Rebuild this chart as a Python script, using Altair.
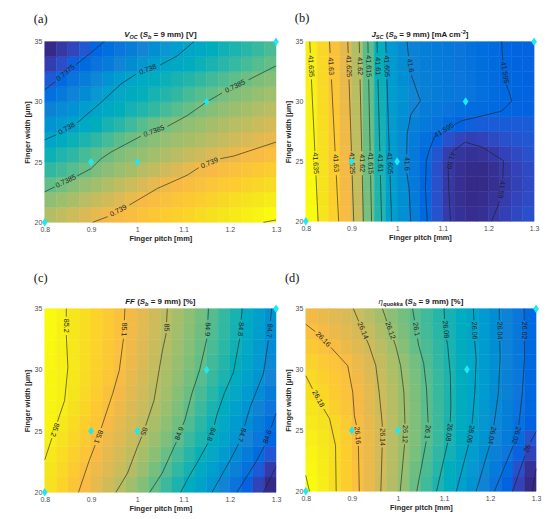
import math
import numpy as np
import pandas as pd
import altair as alt

FONT = "Liberation Sans"

# ---------------- grid geometry (cell edges of the read-off maps) ----------------
X_EDGES = np.linspace(0.8, 1.3, 21)     # finger pitch [mm], 20 columns
Y_EDGES = np.linspace(20.0, 35.0, 13)   # finger width [um], 12 rows

PITCH_TICKS = [0.8, 0.9, 1.0, 1.1, 1.2, 1.3]
WIDTH_TICKS = [20, 25, 30, 35]

DESIGN_PITCH = [0.8, 0.9, 1.0, 1.15, 1.3]
DESIGN_WIDTH = [20, 25, 25, 30, 35]

# ---------------- read-off values, rows from width 20 (bottom) to 35 (top) ----------------
VOC_MV = [
    [738.73,738.79,738.84,738.89,738.95,739.00,739.03,739.06,739.10,739.13,739.16,739.19,739.22,739.26,739.29,739.32,739.35,739.38,739.41,739.45],
    [738.60,738.65,738.70,738.76,738.81,738.86,738.92,738.97,739.02,739.05,739.08,739.11,739.14,739.17,739.20,739.24,739.27,739.30,739.33,739.36],
    [738.46,738.51,738.57,738.62,738.67,738.73,738.78,738.84,738.89,738.95,739.00,739.03,739.06,739.09,739.12,739.15,739.17,739.20,739.23,739.26],
    [738.31,738.36,738.42,738.48,738.54,738.59,738.64,738.69,738.75,738.80,738.85,738.90,738.96,739.01,739.03,739.06,739.09,739.11,739.14,739.17],
    [738.17,738.24,738.30,738.37,738.44,738.50,738.55,738.59,738.63,738.67,738.72,738.76,738.81,738.85,738.89,738.94,738.98,739.02,739.04,739.07],
    [738.03,738.10,738.17,738.23,738.30,738.37,738.44,738.50,738.54,738.58,738.62,738.66,738.69,738.73,738.77,738.81,738.85,738.89,738.93,738.96],
    [737.88,737.94,738.00,738.07,738.14,738.21,738.28,738.35,738.42,738.49,738.53,738.57,738.61,738.64,738.68,738.72,738.76,738.79,738.83,738.87],
    [737.74,737.81,737.88,737.95,738.02,738.08,738.14,738.19,738.25,738.31,738.37,738.43,738.48,738.53,738.57,738.61,738.65,738.69,738.73,738.77],
    [737.59,737.67,737.75,737.83,737.91,737.99,738.05,738.10,738.15,738.21,738.26,738.31,738.37,738.42,738.47,738.52,738.56,738.59,738.63,738.67],
    [737.45,737.54,737.62,737.71,737.79,737.87,737.96,738.03,738.07,738.12,738.17,738.21,738.26,738.31,738.36,738.40,738.45,738.50,738.54,738.57],
    [737.32,737.40,737.48,737.55,737.62,737.69,737.76,737.83,737.90,737.97,738.03,738.08,738.12,738.17,738.22,738.27,738.32,738.37,738.42,738.47],
    [737.21,737.29,737.36,737.44,737.51,737.58,737.64,737.71,737.77,737.84,737.91,737.97,738.03,738.08,738.13,738.18,738.23,738.28,738.33,738.38],
]

JSC_UA = [  # uA cm-2
    [41636.5,41633.7,41631.0,41627.6,41623.1,41616.7,41610.7,41605.0,41602.0,41598.9,41595.3,41592.8,41590.4,41589.2,41588.7,41589.0,41590.0,41591.0,41591.8,41592.5],
    [41636.3,41633.5,41630.8,41627.4,41622.9,41616.5,41610.5,41604.9,41601.8,41598.5,41595.1,41592.5,41590.1,41589.0,41588.5,41588.7,41589.4,41590.6,41591.4,41592.1],
    [41636.2,41633.4,41630.6,41627.2,41622.7,41616.3,41610.3,41604.7,41601.6,41598.3,41594.9,41592.5,41590.0,41588.9,41588.3,41588.4,41589.0,41590.2,41591.1,41591.9],
    [41636.0,41633.2,41630.4,41627.1,41622.5,41616.2,41610.1,41604.6,41601.3,41598.1,41595.1,41592.5,41590.0,41589.0,41588.4,41588.5,41589.1,41590.3,41591.2,41592.0],
    [41635.9,41633.0,41630.2,41626.9,41622.3,41616.0,41609.9,41604.4,41601.1,41598.2,41595.6,41593.1,41590.7,41589.6,41589.2,41589.5,41590.2,41591.2,41592.0,41592.7],
    [41635.7,41632.8,41630.0,41626.7,41622.1,41615.8,41609.7,41604.3,41601.2,41598.6,41596.4,41594.3,41592.8,41591.5,41591.0,41591.3,41592.0,41592.6,41593.0,41593.2],
    [41635.5,41632.7,41629.8,41626.5,41622.0,41615.6,41609.4,41604.3,41601.5,41599.4,41598.2,41597.0,41595.8,41594.6,41594.0,41593.7,41593.6,41593.6,41593.6,41593.6],
    [41635.4,41632.5,41629.6,41626.3,41621.8,41615.4,41609.2,41604.4,41602.2,41600.1,41599.0,41598.0,41597.2,41596.5,41596.0,41595.7,41595.4,41594.9,41594.6,41594.4],
    [41635.2,41632.3,41629.4,41626.1,41621.6,41615.2,41609.0,41604.3,41602.5,41600.6,41599.6,41599.0,41598.3,41597.7,41597.1,41596.5,41595.8,41595.2,41594.8,41594.5],
    [41635.0,41632.1,41629.2,41626.0,41621.4,41615.1,41608.8,41604.1,41601.9,41599.9,41599.3,41598.7,41598.1,41597.5,41596.9,41596.3,41595.7,41595.0,41594.7,41594.4],
    [41634.9,41632.0,41629.0,41625.8,41621.2,41614.9,41608.6,41603.9,41601.6,41599.8,41599.2,41598.6,41598.0,41597.4,41596.8,41596.2,41595.6,41594.9,41594.6,41594.3],
    [41634.7,41631.8,41628.8,41625.6,41621.0,41614.7,41608.4,41603.8,41601.2,41599.7,41599.1,41598.5,41597.9,41597.3,41596.7,41596.1,41595.5,41594.9,41594.6,41594.3],
]

FF_PCT = [
    [85.177,85.148,85.119,85.090,85.061,85.031,85.002,84.968,84.934,84.899,84.861,84.824,84.786,84.750,84.713,84.670,84.624,84.579,84.533,84.488],
    [85.183,85.156,85.129,85.102,85.075,85.048,85.021,84.992,84.957,84.921,84.885,84.849,84.812,84.776,84.740,84.703,84.660,84.616,84.568,84.519],
    [85.191,85.166,85.140,85.114,85.088,85.061,85.034,85.008,84.976,84.942,84.907,84.872,84.837,84.801,84.765,84.729,84.690,84.647,84.604,84.562],
    [85.203,85.177,85.152,85.127,85.101,85.075,85.048,85.021,84.993,84.961,84.929,84.896,84.860,84.825,84.788,84.751,84.713,84.672,84.629,84.587],
    [85.213,85.189,85.164,85.139,85.114,85.088,85.061,85.034,85.008,84.978,84.947,84.916,84.881,84.843,84.806,84.769,84.731,84.693,84.651,84.609],
    [85.212,85.200,85.175,85.150,85.125,85.100,85.073,85.046,85.020,84.991,84.960,84.928,84.896,84.859,84.822,84.785,84.746,84.708,84.668,84.627],
    [85.216,85.205,85.183,85.158,85.134,85.109,85.084,85.056,85.029,85.002,84.971,84.939,84.908,84.873,84.838,84.802,84.765,84.728,84.691,84.653],
    [85.218,85.205,85.187,85.164,85.141,85.118,85.094,85.065,85.037,85.008,84.979,84.950,84.920,84.889,84.855,84.821,84.786,84.748,84.711,84.672],
    [85.220,85.204,85.189,85.167,85.145,85.123,85.101,85.072,85.044,85.015,84.986,84.957,84.929,84.901,84.867,84.833,84.799,84.760,84.721,84.681],
    [85.222,85.205,85.188,85.167,85.146,85.124,85.103,85.076,85.048,85.020,84.992,84.964,84.936,84.907,84.875,84.842,84.808,84.769,84.729,84.688],
    [85.225,85.206,85.187,85.167,85.147,85.127,85.107,85.081,85.053,85.025,84.998,84.969,84.941,84.913,84.882,84.848,84.814,84.777,84.737,84.697],
    [85.227,85.207,85.187,85.167,85.147,85.128,85.108,85.083,85.056,85.029,85.002,84.974,84.946,84.917,84.886,84.852,84.818,84.781,84.741,84.701],
]

ETA_PCT = [
    [26.197,26.189,26.181,26.171,26.161,26.151,26.140,26.129,26.117,26.104,26.092,26.080,26.069,26.057,26.046,26.035,26.022,26.010,25.996,25.983],
    [26.195,26.188,26.181,26.171,26.161,26.151,26.141,26.130,26.118,26.106,26.095,26.084,26.072,26.061,26.050,26.039,26.028,26.016,26.002,25.987],
    [26.193,26.187,26.181,26.171,26.160,26.151,26.141,26.131,26.120,26.109,26.098,26.087,26.076,26.065,26.054,26.043,26.033,26.023,26.009,25.996],
    [26.190,26.185,26.179,26.170,26.160,26.151,26.142,26.131,26.121,26.111,26.100,26.090,26.079,26.068,26.058,26.047,26.037,26.028,26.017,26.003],
    [26.187,26.183,26.177,26.168,26.158,26.150,26.141,26.131,26.121,26.111,26.101,26.091,26.080,26.070,26.060,26.049,26.039,26.030,26.020,26.010],
    [26.184,26.180,26.172,26.165,26.157,26.148,26.140,26.130,26.121,26.111,26.100,26.091,26.081,26.071,26.061,26.051,26.041,26.031,26.022,26.013],
    [26.181,26.176,26.169,26.163,26.156,26.148,26.139,26.130,26.120,26.110,26.100,26.090,26.081,26.071,26.062,26.052,26.042,26.033,26.023,26.013],
    [26.178,26.172,26.167,26.162,26.154,26.146,26.137,26.128,26.119,26.109,26.099,26.090,26.081,26.071,26.062,26.053,26.043,26.033,26.024,26.014],
    [26.173,26.168,26.164,26.159,26.151,26.144,26.135,26.126,26.117,26.107,26.097,26.088,26.080,26.071,26.063,26.053,26.044,26.034,26.025,26.015],
    [26.167,26.163,26.158,26.152,26.146,26.140,26.132,26.123,26.113,26.103,26.095,26.087,26.079,26.070,26.062,26.053,26.043,26.034,26.025,26.015],
    [26.161,26.156,26.152,26.147,26.142,26.136,26.127,26.119,26.110,26.101,26.093,26.085,26.078,26.070,26.061,26.052,26.043,26.034,26.025,26.015],
    [26.155,26.151,26.147,26.144,26.139,26.131,26.123,26.115,26.107,26.099,26.092,26.084,26.077,26.069,26.061,26.052,26.043,26.034,26.024,26.015],
]

# ---------------- contour lines (pieces split where labels sit) ----------------
VOC_CONTOURS = [
    ("0.7375", [[(0.8, 31.0), (0.8229, 31.67)], [(0.868, 33.1), (0.9003, 34.09), (0.9289, 35)]]),
    ("0.738", [[(0.8, 26.85), (0.8251, 27.27)],
               [(0.8702, 28.26), (0.9218, 29.96), (0.9648, 31.48), (0.997, 32.3)],
               [(1.0493, 33.05), (1.0865, 33.82), (1.1223, 35)]]),
    ("0.7385", [[(0.8, 22.53), (0.8215, 22.94)],
                [(0.8702, 23.85), (0.9003, 24.46), (0.9218, 25.28), (0.9433, 25.83), (1.0078, 27.15)],
                [(1.0651, 27.96), (1.108, 28.86), (1.151, 30.02), (1.1832, 30.73)],
                [(1.2405, 31.83), (1.3, 32.99)]]),
    ("0.739", [[(0.9039, 20), (0.9361, 20.47)],
               [(0.9827, 21.43), (1.0436, 22.81), (1.108, 23.91), (1.1331, 24.54)],
               [(1.1797, 25.28), (1.2083, 25.5), (1.3, 26.66)]]),
    (None, [[(1.2728, 20), (1.3, 20.19)]]),
]

JSC_CONTOURS = [
    ("41.635", [[(0.8087, 35), (0.8100, 34.05)], [(0.8123, 31.85), (0.8199, 25.85)], [(0.8222, 23.85), (0.827, 20)]]),
    ("41.63", [[(0.852, 35), (0.8533, 34.05)], [(0.8562, 31.85), (0.8642, 25.85)], [(0.8668, 23.85), (0.872, 20)]]),
    ("41.625", [[(0.892, 35), (0.8928, 34.05)], [(0.8947, 31.85), (0.9000, 25.85)], [(0.9016, 23.85), (0.905, 20)]]),
    ("41.62", [[(0.917, 35), (0.9176, 34.05)], [(0.9189, 31.85), (0.9225, 25.85)], [(0.9237, 23.85), (0.926, 20)]]),
    ("41.615", [[(0.936, 35), (0.9365, 34.05)], [(0.9377, 31.85), (0.9409, 25.85)], [(0.942, 23.85), (0.944, 20)]]),
    ("41.61", [[(0.956, 35), (0.9566, 34.05)], [(0.9581, 31.85), (0.9621, 25.85)], [(0.9634, 23.85), (0.966, 20)]]),
    ("41.605", [[(0.975, 35), (0.9758, 34.05)], [(0.9777, 31.85), (0.9829, 25.85)], [(0.9846, 23.85), (0.988, 20)]]),
    ("41.6", [[(1.022, 35), (1.025, 33.8)],
              [(1.032, 32.2), (1.033, 32.0), (1.051, 30.06), (1.030, 28.9), (1.022, 27.3), (1.021, 25.6)],
              [(1.0215, 24.0), (1.026, 22.8), (1.030, 20)]]),
    ("41.595", [[(1.229, 35), (1.2315, 33.45)],
                [(1.2395, 31.4), (1.247, 30.6), (1.251, 30.05), (1.229, 29.2), (1.186, 28.8), (1.142, 28.4), (1.125, 28.08)],
                [(1.082, 27.08), (1.070, 25.9), (1.064, 25.05), (1.062, 22.8), (1.066, 20)]]),
    ("41.59", [[(1.117, 20), (1.113, 22.8), (1.112, 24.3)],
               [(1.122, 25.85), (1.149, 26.6), (1.186, 26.2), (1.233, 25.05), (1.2315, 23.6)],
               [(1.225, 21.7), (1.207, 20)]]),
]

FF_CONTOURS = [
    ("85.2", [[(0.8466, 35), (0.8466, 34.35)],
              [(0.8466, 32.85), (0.8501, 30.2), (0.843, 27.5), (0.8287, 25.9), (0.8275, 25.78)],
              [(0.8155, 24.43), (0.8, 22.65)]]),
    ("85.1", [[(0.9733, 35), (0.9722, 34.05)],
              [(0.9702, 32.55), (0.9612, 29.95), (0.9468, 28.05), (0.9222, 25.25)],
              [(0.909, 23.85), (0.8967, 22.65), (0.873, 20)]]),
    ("85", [[(1.065, 35), (1.0634, 33.9)],
            [(1.0627, 33.0), (1.0544, 31.57), (1.0364, 27.52), (1.0183, 25.45)],
            [(1.0097, 24.55), (1.0007, 23.73), (0.979, 21.57), (0.954, 20)]]),
    ("84.9", [[(1.154, 35), (1.1528, 34.1)],
              [(1.1505, 32.55), (1.135, 30), (1.118, 28.05), (1.103, 25.9), (1.0985, 25.5)],
              [(1.0845, 24.1), (1.08, 23.73), (1.054, 21.57), (1.027, 20)]]),
    ("84.8", [[(1.227, 35), (1.2245, 34.1)],
              [(1.2215, 32.55), (1.208, 29.8), (1.188, 28.05), (1.172, 26.3), (1.1668, 25.5)],
              [(1.1525, 24.0), (1.133, 22.65), (1.112, 21.3), (1.094, 20)]]),
    ("84.7", [[(1.2907, 35), (1.2878, 34.0)],
              [(1.2835, 32.4), (1.2727, 29.68), (1.2441, 26.97), (1.2325, 25.45)],
              [(1.219, 23.95), (1.2012, 22.65), (1.1618, 20)]]),
    ("84.6", [[(1.3, 26.43), (1.2895, 25.3)], [(1.2745, 23.75), (1.255, 22.38), (1.2155, 20)]]),
    (None, [[(1.3, 22.1), (1.2727, 20)]]),
]

ETA_CONTOURS = [
    (None, [[(0.8, 21.3), (0.808, 20)]]),
    ("26.18", [[(0.8, 29.49), (0.8145, 28.42)], [(0.839, 26.76), (0.8517, 25.95), (0.8646, 23.76), (0.866, 20)]]),
    ("26.16", [[(0.8, 33.72), (0.8205, 33.12)],
               [(0.8545, 31.82), (0.8911, 30.31), (0.9019, 28.13), (0.9055, 26.22), (0.9098, 25.45)],
               [(0.9142, 23.73), (0.9162, 20)]]),
    ("26.14", [[(0.9033, 35), (0.9150, 33.95)],
               [(0.932, 32.45), (0.9377, 31.95), (0.9521, 30.31), (0.9593, 28.13), (0.965, 25.95), (0.9662, 25.3)],
               [(0.9658, 23.6), (0.963, 20)]]),
    ("26.12", [[(0.9664, 35), (0.9757, 33.98)],
               [(0.9906, 32.42), (0.9951, 31.95), (1.0059, 30.31), (1.013, 28.13), (1.0154, 25.55)],
               [(1.0144, 23.85), (1.005, 20)]]),
    ("26.1", [[(1.032, 35), (1.036, 34.05)],
              [(1.0425, 32.55), (1.045, 32.0), (1.056, 30.5), (1.062, 28.5), (1.0656, 25.65)],
              [(1.0615, 24.1), (1.041, 20)]]),
    ("26.08", [[(1.100, 35), (1.1012, 34.15)],
               [(1.1058, 32.45), (1.108, 32.0), (1.114, 29.5), (1.115, 27), (1.1137, 25.7)],
               [(1.108, 24.0), (1.084, 20)]]),
    ("26.06", [[(1.164, 35), (1.165, 34.05)],
               [(1.1665, 32.35), (1.17, 30.85), (1.167, 28.13), (1.1612, 25.55)],
               [(1.1535, 23.85), (1.127, 20)]]),
    ("26.04", [[(1.22, 35), (1.2203, 34.05)],
               [(1.221, 32.35), (1.222, 31), (1.218, 28), (1.2085, 25.45)],
               [(1.199, 23.75), (1.170, 20)]]),
    ("26.02", [[(1.274, 35), (1.2742, 34.05)],
               [(1.2745, 32.35), (1.275, 31), (1.27, 28), (1.2625, 25.45)],
               [(1.2505, 23.75), (1.2096, 20)]]),
    ("26", [[(1.3, 24.9), (1.288, 24.05)], [(1.276, 22.95), (1.249, 20)]]),
    (None, [[(1.3, 21.86), (1.292, 20)]]),
]

# MATLAB parula, sampled every 4 of 64 steps
PARULA = ["#352a87", "#3243ba", "#0363e1", "#0d75dc", "#1485d4", "#0998d1", "#06a7c6", "#15b1b4",
          "#38b99e", "#65be86", "#92bf73", "#b7bd64", "#d9ba56", "#f8ba44", "#fccd2e", "#f5e41d", "#f9fb0e"]

# ---------------- title pieces: (text, size, baseline shift, weight, style) ----------------
TITLE_A = [("V", 8, 0, "bold", "italic"), ("OC", 5.6, 2.2, "bold", "italic"), (" (", 8, 0, "bold", "normal"),
           ("S", 8, 0, "bold", "italic"), ("b", 5.6, 2.2, "bold", "italic"), (" = 9 mm) [V]", 8, 0, "bold", "normal")]
TITLE_B = [("J", 8, 0, "bold", "italic"), ("SC", 5.6, 2.2, "bold", "italic"), (" (", 8, 0, "bold", "normal"),
           ("S", 8, 0, "bold", "italic"), ("b", 5.6, 2.2, "bold", "italic"), (" = 9 mm) [mA cm", 8, 0, "bold", "normal"),
           ("-2", 5.6, -3.0, "bold", "normal"), ("]", 8, 0, "bold", "normal")]
TITLE_C = [("FF", 8, 0, "bold", "italic"), (" (", 8, 0, "bold", "normal"), ("S", 8, 0, "bold", "italic"),
           ("b", 5.6, 2.2, "bold", "italic"), (" = 9 mm) [%]", 8, 0, "bold", "normal")]
TITLE_D = [("η", 8, 0, "normal", "italic"), ("quokka", 5.6, 2.2, "bold", "italic"), (" (", 8, 0, "bold", "normal"),
           ("S", 8, 0, "bold", "italic"), ("b", 5.6, 2.2, "bold", "italic"), (" = 9 mm) [%]", 8, 0, "bold", "normal")]

CHAR_W = {" ": 278, "(": 333, ")": 333, "[": 333, "]": 333, "=": 584, "-": 333, "9": 556, "2": 556,
          "%": 889, "m": 889, "A": 722, "c": 556, "b": 611, "S": 667, "V": 667, "O": 778, "C": 722,
          "J": 556, "F": 611, "q": 611, "u": 611, "o": 611, "k": 556, "a": 556, "η": 600}


def text_width(s, size):
    return sum(CHAR_W.get(ch, 556) for ch in s) * size / 1000.0


X_SCALE = alt.Scale(domain=[0.8, 1.3], nice=False, zero=False)
Y_SCALE = alt.Scale(domain=[20, 35], nice=False, zero=False)
X_AXIS = alt.Axis(values=PITCH_TICKS, format="~g", title="Finger pitch [mm]", ticks=False, domain=False,
                  grid=False, labelFlush=False, labelOverlap=False, labelFontSize=7, labelColor="#4d4d4d",
                  labelFont=FONT, labelPadding=3, titleFont=FONT, titleFontSize=7.5, titleFontWeight="bold",
                  titleColor="#262626", titlePadding=2)
Y_AXIS = alt.Axis(values=WIDTH_TICKS, title="Finger width [μm]", ticks=False, domain=False, grid=False,
                  labelFlush=False, labelOverlap=False, labelFontSize=7, labelColor="#4d4d4d", labelFont=FONT,
                  labelPadding=3, titleFont=FONT, titleFontSize=7.5, titleFontWeight="bold",
                  titleColor="#262626", titlePadding=3)


def X(field):
    return alt.X(field, type="quantitative", scale=X_SCALE, axis=X_AXIS)


def Y(field):
    return alt.Y(field, type="quantitative", scale=Y_SCALE, axis=Y_AXIS)


def make_panel(grid, contours, title_pieces, letter, letter_dx, letter_dy, W, H):
    sx, sy = W / 0.5, H / 15.0
    cells = []
    for r, row in enumerate(grid):
        for c, v in enumerate(row):
            cells.append({"px": X_EDGES[c], "px2": X_EDGES[c + 1],
                          "wd": Y_EDGES[r], "wd2": Y_EDGES[r + 1], "v": v})
    cells = pd.DataFrame(cells)
    cscale = alt.Scale(range=PARULA, zero=False, nice=False)
    heat = alt.Chart(cells).mark_rect(strokeWidth=0.5).encode(
        x=X("px"), x2=alt.X2("px2"), y=Y("wd"), y2=alt.Y2("wd2"),
        color=alt.Color("v:Q", scale=cscale, legend=None),
        stroke=alt.Stroke("v:Q", scale=cscale, legend=None),
    )

    rows, labs = [], []
    for ci, (txt, pieces) in enumerate(contours):
        for pi, pts in enumerate(pieces):
            for k, (x, y) in enumerate(pts):
                rows.append({"px": x, "wd": y, "seg": f"{ci}-{pi}", "ord": k})
        if txt:
            for pi in range(len(pieces) - 1):
                x1, y1 = pieces[pi][-1]
                x2, y2 = pieces[pi + 1][0]
                ang = math.degrees(math.atan2(-(y2 - y1) * sy, (x2 - x1) * sx))
                while ang > 110:
                    ang -= 180
                while ang <= -70:
                    ang += 180
                labs.append({"px": (x1 + x2) / 2, "wd": (y1 + y2) / 2, "lab": txt, "ang": ang % 360})
    lines = alt.Chart(pd.DataFrame(rows)).mark_line(color="#1c1c1c", strokeWidth=0.6).encode(
        x=X("px"), y=Y("wd"), detail="seg:N", order="ord:Q")
    labels = alt.Chart(pd.DataFrame(labs)).mark_text(
        font=FONT, fontSize=7.2, color="#222222", align="center", baseline="middle").encode(
        x=X("px"), y=Y("wd"), text="lab:N", angle=alt.Angle("ang:Q", scale=None))

    pts = pd.DataFrame({"px": DESIGN_PITCH, "wd": DESIGN_WIDTH})
    diamonds = alt.Chart(pts).mark_point(
        shape="M0,-1L0.68,0L0,1L-0.68,0Z", filled=True, size=72, color="#1fe8f4",
        opacity=1, strokeWidth=0, clip=False).encode(x=X("px"), y=Y("wd"))

    layers = [heat, lines, labels, diamonds]
    total = sum(text_width(t, s) for t, s, _, _, _ in title_pieces)
    cur = W / 2 - total / 2
    for t, s, dy, wt, st in title_pieces:
        core = t.lstrip(" ")
        lead = text_width(t[: len(t) - len(core)], s)
        layers.append(alt.Chart(pd.DataFrame({"t": [core]})).mark_text(
            font=FONT, fontSize=s, fontWeight=wt, fontStyle=st, color="#1a1a1a",
            align="left", baseline="alphabetic").encode(
            x=alt.value(cur + lead), y=alt.value(-5 + dy), text="t:N"))
        cur += text_width(t, s)
    layers.append(alt.Chart(pd.DataFrame({"t": [letter]})).mark_text(
        font="Liberation Serif", fontSize=12.5, color="#111111", align="left",
        baseline="alphabetic").encode(x=alt.value(letter_dx), y=alt.value(letter_dy), text="t:N"))
    return alt.layer(*layers).properties(width=W, height=H)


pa = make_panel(VOC_MV, VOC_CONTOURS, TITLE_A, "(a)", -11, -19, 233, 182)
pb = make_panel(JSC_UA, JSC_CONTOURS, TITLE_B, "(b)", -11, -20, 230, 181)
pc = make_panel(FF_PCT, FF_CONTOURS, TITLE_C, "(c)", -11, -27, 233, 185)
pd_ = make_panel(ETA_PCT, ETA_CONTOURS, TITLE_D, "(d)", -21, -27, 232, 184)

chart = alt.concat(
    pa, pb, pc, pd_, columns=2, spacing={"row": 87, "column": 30}, bounds="flush"
).resolve_scale(color="independent", stroke="independent").properties(
    padding={"left": 15, "top": 2, "right": 5, "bottom": 5}
).configure_view(stroke=None)

chart.save("out.html", embed_options={"renderer": "svg", "actions": False})
